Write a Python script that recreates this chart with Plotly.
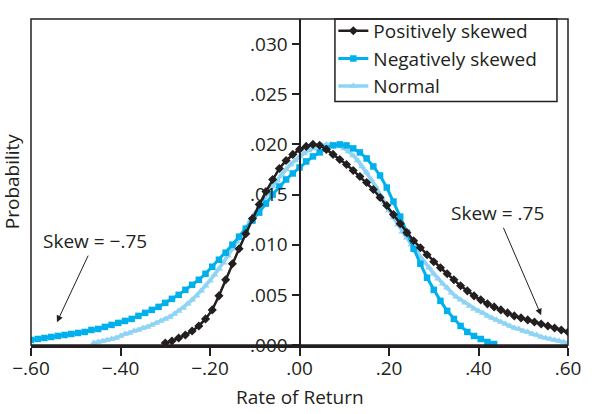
import plotly.graph_objects as go

# ---------------- data ----------------
pos_start, pos_step = -0.30, 0.015
pos_skew = [0.0002, 0.0004, 0.0007, 0.0010, 0.0014, 0.0019, 0.0026, 0.0035, 0.0049, 0.0065,
            0.0081, 0.0096, 0.0111, 0.0126, 0.0140, 0.0153, 0.0165, 0.0176, 0.0184, 0.0190,
            0.0195, 0.0198, 0.0200, 0.0199, 0.0195, 0.0190, 0.0185, 0.0180, 0.0174, 0.0168,
            0.0162, 0.0155, 0.0147, 0.0139, 0.0130, 0.0121, 0.0112, 0.0104, 0.0097, 0.0090,
            0.0083, 0.0077, 0.0071, 0.0065, 0.0059, 0.0054, 0.0049, 0.0045, 0.0041, 0.0038,
            0.0035, 0.0032, 0.0029, 0.0027, 0.0025, 0.0023, 0.0021, 0.0019, 0.0017, 0.0015,
            0.0013]

neg_start, neg_step = -0.60, 0.015
neg_skew = [0.0005, 0.0006, 0.0007, 0.0008, 0.0009, 0.0010, 0.0011, 0.0012, 0.0013, 0.0015,
            0.0016, 0.0018, 0.0020, 0.0022, 0.0024, 0.0026, 0.0029, 0.0032, 0.0035, 0.0038,
            0.0042, 0.0046, 0.0050, 0.0055, 0.0060, 0.0065, 0.0071, 0.0078, 0.0085, 0.0092,
            0.0100, 0.0108, 0.0116, 0.0124, 0.0132, 0.0141, 0.0150, 0.0158, 0.0165, 0.0171,
            0.0177, 0.0183, 0.0188, 0.0192, 0.0196, 0.0199, 0.0200, 0.0199, 0.0196, 0.0192,
            0.0186, 0.0178, 0.0169, 0.0157, 0.0143, 0.0128, 0.0112, 0.0096, 0.0081, 0.0067,
            0.0055, 0.0044, 0.0034, 0.0026, 0.0019, 0.0013, 0.0009, 0.0006, 0.0003, 0.0001]

norm_start, norm_step = -0.46, 0.01
normal = [0.0002, 0.0003, 0.0004, 0.0005, 0.0006, 0.0007, 0.0009, 0.0011, 0.0012, 0.0014,
          0.0015, 0.0017, 0.0018, 0.0020, 0.0022, 0.0024, 0.0026, 0.0028, 0.0031, 0.0034,
          0.0037, 0.0041, 0.0045, 0.0049, 0.0054, 0.0059, 0.0064, 0.0070, 0.0076, 0.0082,
          0.0089, 0.0096, 0.0103, 0.0110, 0.0117, 0.0124, 0.0131, 0.0138, 0.0145, 0.0152,
          0.0158, 0.0164, 0.0170, 0.0175, 0.0180, 0.0184,
          0.0188, 0.0191, 0.0194, 0.0196, 0.0198, 0.0199, 0.0200, 0.0200, 0.0199, 0.0198,
          0.0196, 0.0193, 0.0189, 0.0184, 0.0178, 0.0172, 0.0165, 0.0158, 0.0150, 0.0142,
          0.0134, 0.0127, 0.0120, 0.0113, 0.0107, 0.0100, 0.0094, 0.0088, 0.0082, 0.0077,
          0.0071, 0.0066, 0.0061, 0.0057, 0.0052, 0.0048, 0.0045, 0.0042, 0.0039, 0.0036,
          0.0034, 0.0032, 0.0029, 0.0027, 0.0025, 0.0023, 0.0021, 0.0019, 0.0017, 0.0016,
          0.0014, 0.0013, 0.0011, 0.0010, 0.0008, 0.0007, 0.0006, 0.0005, 0.0004, 0.0003,
          0.0002]

x_tickvals = [-0.6, -0.4, -0.2, 0.0, 0.2, 0.4, 0.6]
x_ticktext = ["\u2212.60", "\u2212.40", "\u2212.20", ".00", ".20", ".40", ".60"]
y_tickvals = [0.0, 0.005, 0.010, 0.015, 0.020, 0.025, 0.030]
y_ticktext = [".000", ".005", ".010", ".015", ".020", ".025", ".030"]


def grid(start, step, n):
    return [round(start + i * step, 4) for i in range(n)]


INK = "#231f20"
FONT = "Open Sans"
FS = 19

fig = go.Figure()
fig.add_trace(go.Scatter(
    x=grid(norm_start, norm_step, len(normal)), y=normal, name="Normal",
    mode="lines+markers", legendrank=3,
    line=dict(color="#8fd4f4", width=3.5),
    marker=dict(symbol="triangle-up", size=7, color="#8fd4f4")))
fig.add_trace(go.Scatter(
    x=grid(neg_start, neg_step, len(neg_skew)), y=neg_skew, name="Negatively skewed",
    mode="lines+markers", legendrank=2,
    line=dict(color="#00b0ec", width=3),
    marker=dict(symbol="square", size=6.5, color="#00b0ec")))
fig.add_trace(go.Scatter(
    x=grid(pos_start, pos_step, len(pos_skew)), y=pos_skew, name="Positively skewed",
    mode="lines+markers", legendrank=1,
    line=dict(color=INK, width=2.5),
    marker=dict(symbol="diamond", size=7, color=INK)))

fig.update_layout(
    width=599, height=414,
    margin=dict(l=31, r=31, t=17, b=69),
    paper_bgcolor="white", plot_bgcolor="white",
    font=dict(family=FONT, size=FS, color=INK),
    showlegend=True,
    legend=dict(x=0.563, y=1.022, xanchor="left", yanchor="top",
                bgcolor="rgba(0,0,0,0)", borderwidth=0,
                font=dict(size=19, color=INK), itemwidth=30, tracegroupgap=0),
    xaxis=dict(range=[-0.6, 0.6], tickvals=x_tickvals, ticktext=x_ticktext,
               ticks="outside", ticklen=8, tickwidth=2, tickcolor=INK,
               showline=True, linewidth=2.5, linecolor=INK, ticklabelstandoff=-4,
               showgrid=False, zeroline=False, tickfont=dict(size=FS, color=INK)),
    yaxis=dict(range=[0, 0.0325], tickvals=y_tickvals, ticktext=y_ticktext,
               anchor="free", position=0.5, side="left",
               ticks="outside", ticklen=7, tickwidth=2, tickcolor=INK,
               showline=True, linewidth=2, linecolor=INK,
               showgrid=False, zeroline=False, tickfont=dict(size=FS, color=INK)),
    shapes=[
        dict(type="rect", xref="paper", yref="paper", x0=0.566, y0=0.747, x1=0.9795, y1=1,
             line=dict(color=INK, width=1.5), fillcolor="white", layer="below"),
        dict(type="rect", xref="paper", yref="paper", x0=0, y0=0, x1=1, y1=1,
             line=dict(color=INK, width=1.5), layer="above"),
    ],
    annotations=[
        dict(text="Probability", xref="paper", yref="paper", x=-0.035, y=0.503,
             textangle=-90, showarrow=False, font=dict(size=FS, color=INK),
             xanchor="center", yanchor="middle"),
        dict(text="Rate of Return", xref="paper", yref="paper", x=0.5, y=-0.159,
             showarrow=False, font=dict(size=FS, color=INK),
             xanchor="center", yanchor="middle"),
        dict(text="Skew = \u2212.75", x=-0.542, y=0.00228, xref="x", yref="y",
             ax=38, ay=-81, showarrow=True, arrowhead=2, arrowsize=1.3,
             arrowwidth=1, arrowcolor=INK, font=dict(size=FS, color=INK)),
        dict(text="Skew = .75", x=0.540, y=0.00297, xref="x", yref="y",
             ax=-44, ay=-102, showarrow=True, arrowhead=2, arrowsize=1.3,
             arrowwidth=1, arrowcolor=INK, font=dict(size=FS, color=INK)),
    ],
)

fig.write_html("out.html", config={"displayModeBar": False},
               post_script="document.body.style.margin='0';")
